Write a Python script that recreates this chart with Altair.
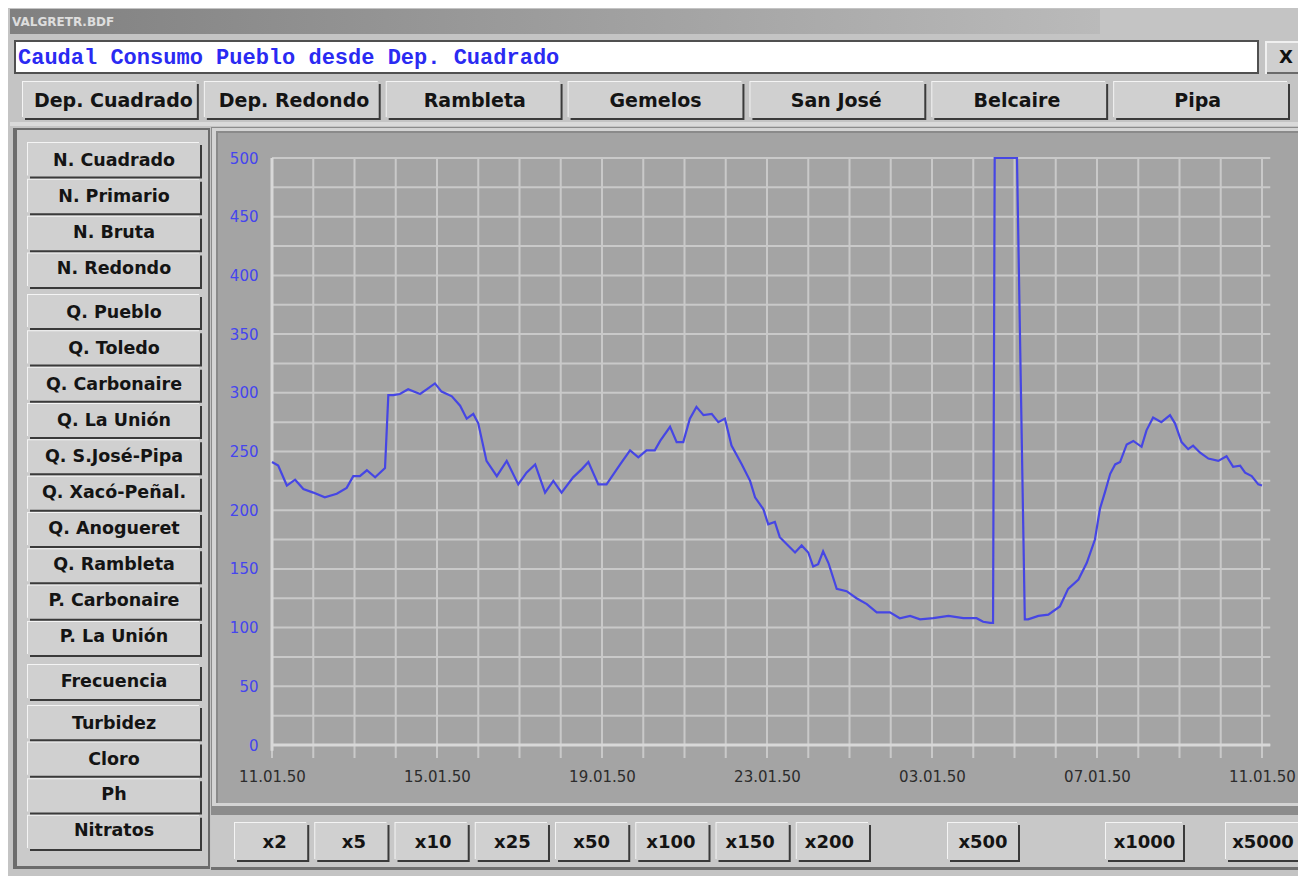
import altair as alt
import pandas as pd

# ---------------- data ----------------
window_title = "VALGRETR.BDF"
chart_title = "Caudal Consumo Pueblo desde Dep. Cuadrado"

top_buttons = ["Dep. Cuadrado", "Dep. Redondo", "Rambleta", "Gemelos",
               "San José", "Belcaire", "Pipa"]
left_group_n = ["N. Cuadrado", "N. Primario", "N. Bruta", "N. Redondo"]
left_group_q = ["Q. Pueblo", "Q. Toledo", "Q. Carbonaire", "Q. La Unión",
                "Q. S.José-Pipa", "Q. Xacó-Peñal.", "Q. Anogueret",
                "Q. Rambleta", "P. Carbonaire", "P. La Unión"]
left_group_f = ["Frecuencia"]
left_group_w = ["Turbidez", "Cloro", "Ph", "Nitratos"]
zoom_buttons = ["x2", "x5", "x10", "x25", "x50", "x100", "x150", "x200"]
zoom_b500 = ["x500"]
zoom_b1000 = ["x1000"]
zoom_b5000 = ["x5000"]

x_tick_values = [0, 4, 8, 12, 16, 20, 24]
x_tick_labels = ["11.01.50", "15.01.50", "19.01.50", "23.01.50",
                 "03.01.50", "07.01.50", "11.01.50"]
y_tick_values = [0, 50, 100, 150, 200, 250, 300, 350, 400, 450, 500]
x_grid = list(range(0, 25))
y_grid = list(range(0, 525, 25))

t_days = [0.00, 0.15, 0.36, 0.56, 0.76, 1.00, 1.28, 1.57, 1.81, 1.97,
          2.13, 2.30, 2.50, 2.74, 2.82, 2.94, 3.10, 3.30, 3.59, 3.75,
          3.95, 4.11, 4.36, 4.56, 4.72, 4.88, 5.00, 5.20, 5.45, 5.69,
          5.97, 6.17, 6.38, 6.62, 6.82, 7.02, 7.30, 7.51, 7.67, 7.91,
          8.11, 8.44, 8.68, 8.88, 9.08, 9.28, 9.41, 9.65, 9.81, 9.97,
          10.13, 10.29, 10.46, 10.66, 10.82, 10.98, 11.14, 11.39, 11.59, 11.71,
          11.91, 12.03, 12.19, 12.31, 12.48, 12.68, 12.84, 13.00, 13.12, 13.24,
          13.36, 13.49, 13.69, 13.93, 14.17, 14.42, 14.66, 14.98, 15.22, 15.47,
          15.71, 16.03, 16.40, 16.76, 17.08, 17.24, 17.41, 17.48, 17.52, 18.06,
          18.25, 18.33, 18.58, 18.82, 19.10, 19.30, 19.55, 19.75, 19.95, 20.07,
          20.19, 20.32, 20.44, 20.56, 20.72, 20.88, 21.08, 21.20, 21.36, 21.56,
          21.77, 21.89, 22.05, 22.21, 22.33, 22.50, 22.70, 22.94, 23.14, 23.30,
          23.47, 23.59, 23.75, 23.91, 24.00]
caudal = [241, 238, 221, 226, 218, 215, 211, 214, 219, 229,
          229, 234, 228, 236, 298, 298, 299, 303, 299, 303,
          308, 301, 297, 289, 278, 282, 274, 242, 229, 242,
          222, 232, 239, 215, 225, 215, 228, 235, 241, 222,
          222, 239, 251, 245, 251, 251, 259, 271, 258, 258,
          278, 288, 281, 282, 275, 278, 255, 239, 225, 211,
          201, 188, 190, 177, 171, 164, 170, 164, 152, 154,
          165, 155, 133, 131, 125, 120, 113, 113, 108, 110,
          107, 108, 110, 108, 108, 105, 104, 104, 500, 500,
          107, 107, 110, 111, 118, 133, 141, 155, 175, 201,
          215, 231, 239, 241, 256, 259, 254, 268, 279, 275,
          281, 274, 258, 252, 255, 249, 244, 242, 246, 237,
          238, 232, 229, 222, 221]

# ---------------- layout helpers (page pixel coords -> chart coords) --------
OFF = 8
W, H = 1290, 868
BTN_FONT = "DejaVu Sans"


def P(v):
    return v - OFF


def box(x1, y1, x2, y2, fill, **kw):
    return alt.Chart().mark_rect(fill=fill, **kw).encode(
        x=alt.value(P(x1)), x2=alt.value(P(x2)),
        y=alt.value(P(y1)), y2=alt.value(P(y2)))


def label(x, y, text, **kw):
    return alt.Chart().mark_text(text=text, **kw).encode(
        x=alt.value(P(x)), y=alt.value(P(y)))


def button_group(names, x1, x2, y1, y2, pad, font_size, vertical=False):
    df = pd.DataFrame({"name": names})
    sc_range = [P(y1), P(y2)] if vertical else [P(x1), P(x2)]
    scale = alt.Scale(domain=names, range=sc_range, paddingInner=pad, paddingOuter=0)
    if vertical:
        band = {"y": alt.Y("name:N", scale=scale, axis=None)}
        fixed = {"x": alt.value(P(x1)), "x2": alt.value(P(x2))}
        tpos = {"x": alt.value(P((x1 + x2) / 2))}
    else:
        band = {"x": alt.X("name:N", scale=scale, axis=None)}
        fixed = {"y": alt.value(P(y1)), "y2": alt.value(P(y2))}
        tpos = {"y": alt.value(P((y1 + y2) / 2) + 1)}
    base = alt.Chart(df)
    hl = base.mark_rect(fill="#f4f4f4", xOffset=-1, x2Offset=-1,
                        yOffset=-1, y2Offset=-1).encode(**band, **fixed)
    sh = base.mark_rect(fill="#3a3a3a", xOffset=2, x2Offset=2,
                        yOffset=2, y2Offset=2).encode(**band, **fixed)
    face = base.mark_rect(fill="#d0d0d0").encode(**band, **fixed)
    txt = base.mark_text(font=BTN_FONT, fontWeight="bold", fontSize=font_size,
                         color="#141414", align="center", baseline="middle").encode(
        **band, **tpos, text="name:N")
    return [hl, sh, face, txt]


layers = []

# ---- title bar ----
title_grad = alt.Gradient(gradient="linear", x1=0, x2=1, y1=0, y2=0,
                          stops=[alt.GradientStop(color="#808080", offset=0),
                                 alt.GradientStop(color="#bababa", offset=1)])
layers.append(box(10, 9, 1100, 34, title_grad))
layers.append(label(12, 22, window_title, font=BTN_FONT, fontWeight="bold",
                    fontSize=12, color="#eeeeee", align="left", baseline="middle",
                    opacity=0.85))

# ---- title text box ----
layers.append(box(14, 40, 1259, 74, "#505050"))
layers.append(box(16, 42, 1257, 72, "#ffffff"))
layers.append(label(18, 57, chart_title, font="Liberation Mono", fontWeight="bold",
                    fontSize=22, color="#2a2af2", align="left", baseline="middle"))
# close button
layers.append(box(1265, 41, 1306, 74, "#f0f0f0"))
layers.append(box(1267, 43, 1306, 74, "#6a6a6a"))
layers.append(box(1267, 43, 1306, 72, "#cfcfcf"))
layers.append(label(1286, 58, "X", font=BTN_FONT, fontWeight="bold", fontSize=18,
                    color="#111111", align="center", baseline="middle"))

# ---- top buttons ----
layers += button_group(top_buttons, 23, 1288, 82, 118, 0.044, 19)
layers.append(box(10, 122, 1306, 126, "#dadada"))

# ---- left panel ----
layers.append(box(13, 128, 210, 869, "#6c6c6c"))
layers.append(box(17, 130, 208, 866, "#cacaca"))
layers += button_group(left_group_n, 28, 200, 143, 287, 0.09, 17.5, vertical=True)
layers += button_group(left_group_q, 28, 200, 295, 655, 0.09, 17.5, vertical=True)
layers += button_group(left_group_f, 28, 200, 665, 699, 0.0, 17.5, vertical=True)
layers += button_group(left_group_w, 28, 200, 706, 849, 0.09, 17.5, vertical=True)

# ---- chart panel ----
layers.append(box(211, 127, 1306, 815, "#8c8c8c"))
layers.append(box(212, 128, 1306, 806, "#d4d4d4"))
layers.append(box(216, 131, 1306, 803, "#8a8a8a"))
layers.append(box(218, 133, 1306, 803, "#a4a4a4"))

# ---- bottom zoom panel ----
layers.append(box(211, 815, 1306, 869, "#c8c8c8"))
layers.append(box(211, 867, 1306, 870, "#707070"))
layers += button_group(zoom_buttons, 235, 869, 823, 860, 0.1, 18)
layers += button_group(zoom_b500, 948, 1018, 823, 860, 0.0, 18)
layers += button_group(zoom_b1000, 1106, 1183, 823, 860, 0.0, 18)
layers += button_group(zoom_b5000, 1226, 1300, 823, 860, 0.0, 18)

# ---- plot: grid, axes and series ----
x_main = alt.Scale(domain=[0, 24], range=[P(272), P(1262)], nice=False, zero=False)
y_main = alt.Scale(domain=[0, 500], range=[P(745), P(158)], nice=False, zero=False)

vgrid = alt.Chart(pd.DataFrame({"g": x_grid})).mark_rule(
    color="#c9c9c9", strokeWidth=2).encode(
    x=alt.X("g:Q", scale=x_main, axis=None),
    y=alt.Y(datum=-11, scale=y_main, axis=None),
    y2=alt.Y2(datum=500))
hgrid = alt.Chart(pd.DataFrame({"g": y_grid})).mark_rule(
    color="#c9c9c9", strokeWidth=2).encode(
    y=alt.Y("g:Q", scale=y_main, axis=None),
    x=alt.X(datum=0, scale=x_main, axis=None),
    x2=alt.X2(datum=24.2))
base_rule = alt.Chart(pd.DataFrame({"g": [0]})).mark_rule(
    color="#d8d8d8", strokeWidth=3).encode(
    y=alt.Y("g:Q", scale=y_main, axis=None),
    x=alt.X(datum=0, scale=x_main, axis=None),
    x2=alt.X2(datum=24.2))
left_rule = alt.Chart(pd.DataFrame({"g": [0]})).mark_rule(
    color="#d8d8d8", strokeWidth=3).encode(
    x=alt.X("g:Q", scale=x_main, axis=None),
    y=alt.Y(datum=-5, scale=y_main, axis=None),
    y2=alt.Y2(datum=500))

label_expr = "[" + ",".join("'%s'" % s for s in x_tick_labels) + "][round(datum.value / 4)]"

series = alt.Chart(pd.DataFrame({"t": t_days, "q": caudal})).mark_line(
    color="#4646e4", strokeWidth=2.2).encode(
    x=alt.X("t:Q", scale=x_main,
            axis=alt.Axis(values=x_tick_values, labelExpr=label_expr, orient="bottom",
                          offset=P(745) - H, domain=False, ticks=False, grid=False,
                          labelPadding=24, labelFont="DejaVu Sans", labelFontSize=15,
                          labelColor="#2c2c2c", labelFlush=False, labelOverlap=False,
                          zindex=2, title=None)),
    y=alt.Y("q:Q", scale=y_main,
            axis=alt.Axis(values=y_tick_values, orient="left", offset=-P(272),
                          domain=False, ticks=False, grid=False, labelPadding=14,
                          labelFont="DejaVu Sans", labelFontSize=15,
                          labelColor="#4545ee", labelFlush=False, labelOverlap=False,
                          zindex=2, title=None)))

layers += [vgrid, hgrid, base_rule, left_rule, series]

chart = alt.layer(*layers).resolve_scale(
    x="independent", y="independent").properties(
    width=W, height=H, padding=0,
    autosize=alt.AutoSizeParams(type="none"),
    background="#c4c4c4").configure_view(strokeWidth=0)

chart.save("out.html", embed_options={"renderer": "svg", "actions": False})
